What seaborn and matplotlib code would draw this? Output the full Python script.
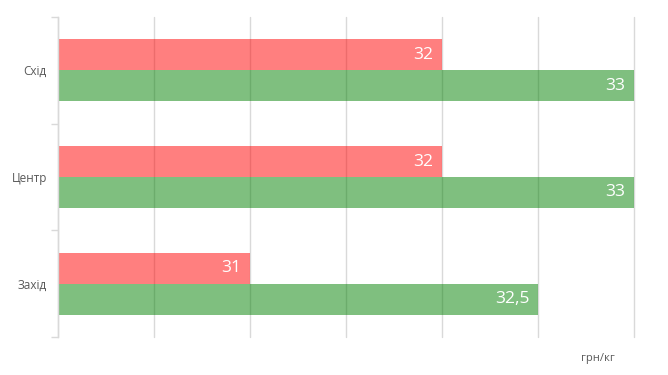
import matplotlib
matplotlib.use("Agg")
import matplotlib.pyplot as plt
import numpy as np
import pandas as pd
import seaborn as sns

# data
regions = ["Схід", "Центр", "Захід"]
series = ["ряд 1", "ряд 2"]
values_1 = [32, 32, 31]
values_2 = [33, 33, 32.5]
unit = "грн/кг"

df = pd.DataFrame({
    "region": regions * 2,
    "series": [series[0]] * 3 + [series[1]] * 3,
    "value": values_1 + values_2,
})

sns.set_style("white")
plt.rcParams["font.family"] = ["Open Sans", "DejaVu Sans"]

fig = plt.figure(figsize=(6.68, 3.75), dpi=100)
ax = fig.add_axes([58 / 668, 38 / 375, 576 / 668, 320 / 375])

sns.barplot(
    data=df, y="region", x="value", hue="series",
    order=regions, hue_order=series,
    palette=["#FF0000", "#008000"], alpha=0.5,
    width=0.58, orient="h", legend=False, ax=ax,
    saturation=1, linewidth=0,
)

ax.set_xlim(30, 33)
ax.set_ylim(2.5, -0.5)
ax.set_xticks(np.arange(30, 33.01, 0.5))
ax.set_xticklabels([])
ax.tick_params(axis="x", length=0)
ax.grid(axis="x", color="#d9d9d9", linewidth=1)
for gl in ax.get_xgridlines():
    gl.set_clip_on(False)
ax.set_axisbelow(True)

# category boundaries as minor ticks on the left
ax.set_yticks([-0.5, 0.5, 1.5, 2.5], minor=True)
ax.tick_params(axis="y", which="major", length=0, labelsize=8.5,
               labelcolor="#595959", pad=8)
ax.tick_params(axis="y", which="minor", left=True, length=5,
               color="#d9d9d9", width=1)

for s in ["top", "right", "bottom"]:
    ax.spines[s].set_visible(False)
ax.spines["left"].set_color("#d9d9d9")
ax.spines["left"].set_linewidth(1)
ax.set_xlabel("")
ax.set_ylabel("")

# value labels inside the bar ends
for cont in ax.containers:
    for p in cont:
        w = p.get_width()
        txt = f"{w:g}".replace(".", ",")
        ax.annotate(txt, (w, p.get_y() + p.get_height() / 2),
                    xytext=(-6, 0), textcoords="offset points",
                    ha="right", va="center", color="white", fontsize=12.5,
                    annotation_clip=False)

ax.text(0.9375, -0.05, unit, transform=ax.transAxes, ha="center", va="top",
        fontsize=8, color="#595959")

fig.savefig("out.png", dpi=100)
